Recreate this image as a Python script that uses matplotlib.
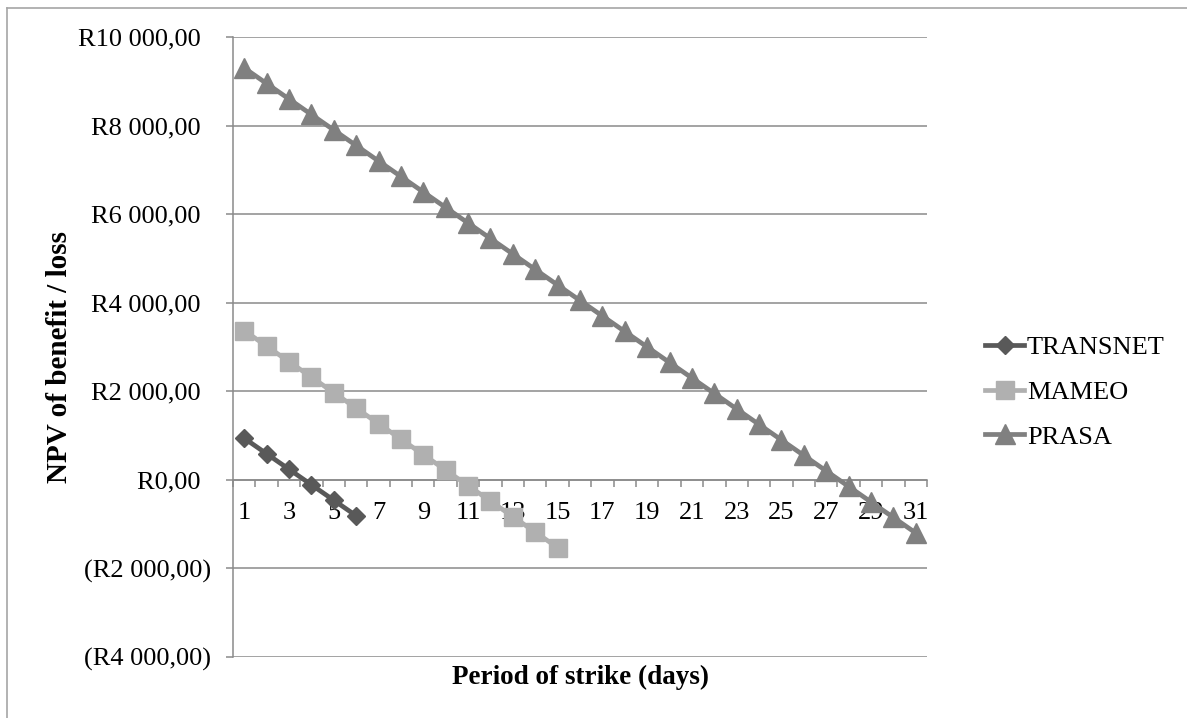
import matplotlib
matplotlib.use("Agg")
import matplotlib.pyplot as plt
from matplotlib.lines import Line2D
from matplotlib.ticker import FixedLocator, FuncFormatter

plt.rcParams['font.family'] = ['Liberation Serif', 'DejaVu Serif']

# Data
days = list(range(1, 32))
transnet = [940, 590, 240, -110, -460, -810]
mameo = [3370, 3020, 2670, 2320, 1970, 1620, 1270, 920, 570, 220,
         -130, -480, -830, -1180, -1530]
prasa = [9300, 8950, 8600, 8250, 7900, 7550, 7200, 6850, 6500, 6150,
         5800, 5450, 5100, 4750, 4400, 4050, 3700, 3350, 3000, 2650,
         2300, 1950, 1600, 1250, 900, 550, 200, -150, -500, -850, -1200]
y_ticks = [-4000, -2000, 0, 2000, 4000, 6000, 8000, 10000]
x_tick_labels = [str(d) for d in days[::2]]

GRID = '#8a8a8a'
FS = 19

fig = plt.figure(figsize=(11.87, 7.18), dpi=100)
ax = fig.add_axes([233 / 1187, 1 - 657 / 718, 694 / 1187, 620 / 718])

ax.plot(days[:len(transnet)], transnet, color='#595959', lw=3.4, marker='D',
        markersize=9.5, label='TRANSNET', zorder=5)
ax.plot(days[:len(mameo)], mameo, color='#b0b0b0', lw=3.4, marker='s',
        markersize=13, label='MAMEO', zorder=4)
ax.plot(days, prasa, color='#808080', lw=3.4, marker='^',
        markersize=14, label='PRASA', zorder=3)

ax.set_xlim(0.5, 31.5)
ax.set_ylim(-4000, 10000)


def rand_fmt(v, pos):
    s = f"{abs(v):,.2f}".replace(',', ' ').replace('.', ',')
    if v < 0:
        return f"(R{s})"
    return f"R{s}\u2009\u2009"


ax.yaxis.set_major_locator(FixedLocator(y_ticks))
ax.yaxis.set_major_formatter(FuncFormatter(rand_fmt))
ax.tick_params(axis='y', direction='out', length=5, width=1.1, color=GRID,
               labelsize=FS, pad=10.5)
ax.grid(axis='y', color=GRID, lw=1.1)
ax.set_axisbelow(True)

ax.set_xticks(days[::2])
ax.set_xticklabels(x_tick_labels)
ax.set_xticks([d + 0.5 for d in [0] + days], minor=True)
ax.tick_params(axis='x', which='major', length=0, labelsize=FS, pad=16)
ax.tick_params(axis='x', which='minor', direction='out', length=5,
               width=1.1, color=GRID)

for side in ['top', 'right']:
    ax.spines[side].set_visible(False)
ax.spines['bottom'].set_position(('data', 0))
ax.spines['bottom'].set_color(GRID)
ax.spines['bottom'].set_linewidth(1.1)
ax.spines['left'].set_color(GRID)
ax.spines['left'].set_linewidth(1.1)

ax.set_xlabel('Period of strike (days)', fontsize=19.5, fontweight='bold')
ax.xaxis.set_label_coords(0.5, -0.033)
ax.xaxis.label.set_va('center')
ax.set_ylabel('NPV of benefit / loss', fontsize=21, fontweight='bold')
ax.yaxis.set_label_coords(-0.25, 0.484)
ax.yaxis.label.set_va('center')

ax.legend(loc='center left', bbox_to_anchor=(1.068, 0.427), frameon=False,
          fontsize=FS, numpoints=1, handlelength=1.5, handletextpad=0.1,
          labelspacing=0.8, borderaxespad=0)

# chart frame
fig.add_artist(Line2D([7 / 1187, 7 / 1187], [0, 1 - 8 / 718], color='#a6a6a6',
                      lw=1.2, transform=fig.transFigure))
fig.add_artist(Line2D([7 / 1187, 1], [1 - 8 / 718, 1 - 8 / 718], color='#a6a6a6',
                      lw=1.2, transform=fig.transFigure))

fig.savefig('out.png', dpi=100)
